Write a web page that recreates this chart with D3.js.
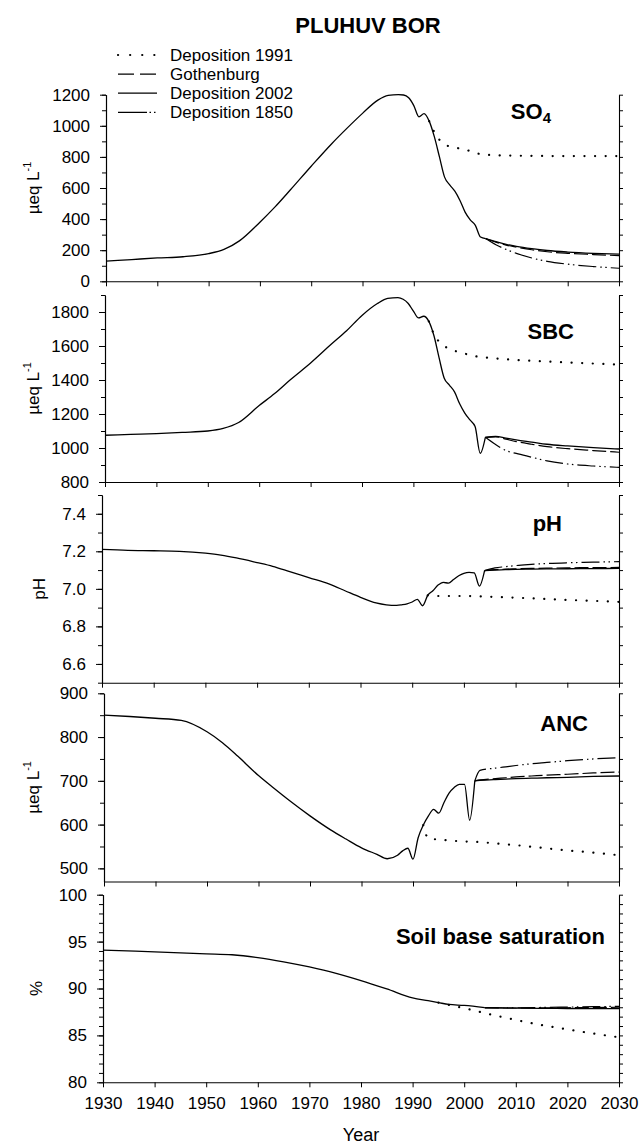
<!DOCTYPE html>
<html>
<head>
<meta charset="utf-8">
<script src="https://cdn.jsdelivr.net/npm/d3@7"></script>
<style>
body{margin:0;background:#fff;}
svg{font-family:Arial,"Liberation Sans",sans-serif;}
</style>
</head>
<body>
<svg id="chart" width="639" height="1144"></svg>
<script>
// --- data ---
var histYears = [1930,1935,1940,1945,1950,1953,1956,1960,1963,1966,1970,1974,1977,1980,1983,1985,1987,1988,1989,1990,1991,1992,1993,1994,1995,1996,1997,1998,1999,2000,2001,2002,2003,2004];
var futureYears = [2004,2006,2008,2010,2013,2016,2020,2025,2030];
var dep1991Years = [1993,1994,1995,1996,1998,2000,2002,2005,2010,2015,2020,2025,2030];

// SO4 (ueq/L)
var so4Hist = [130,140,150,158,178,205,260,380,480,590,740,885,985,1080,1165,1195,1200,1198,1180,1130,1058,1078,1030,930,800,670,620,580,520,445,395,360,285,275];
var so4Dep1991 = [1030,960,910,880,860,848,825,812,808,806,805,805,805];
var so4Gothenburg = [275,252,233,220,203,190,180,172,165];
var so4Dep2002 = [275,255,238,225,210,198,188,180,175];
var so4Dep1850 = [275,235,205,180,150,128,110,95,84];

// SBC (ueq/L)
var sbcHist = [1075,1080,1085,1092,1100,1115,1150,1250,1320,1400,1500,1610,1690,1780,1850,1880,1885,1875,1850,1805,1765,1775,1745,1660,1530,1410,1370,1330,1260,1205,1165,1126,969,1063];
var sbcDep1991 = [1745,1670,1625,1600,1572,1555,1540,1530,1518,1510,1503,1497,1490];
var sbcGothenburg = [1063,1066,1052,1038,1022,1008,996,985,975];
var sbcDep2002 = [1063,1068,1058,1048,1035,1022,1012,1002,994];
var sbcDep1850 = [1063,1020,985,968,946,924,906,894,886];

// pH
var phHist = [7.21,7.205,7.203,7.2,7.19,7.18,7.165,7.14,7.12,7.095,7.06,7.025,6.99,6.955,6.925,6.915,6.912,6.915,6.92,6.93,6.944,6.91,6.965,6.99,7.02,7.035,7.03,7.05,7.07,7.083,7.088,7.085,7.015,7.097];
var phDep1991 = [6.965,6.962,6.962,6.962,6.962,6.962,6.961,6.958,6.953,6.947,6.941,6.936,6.931];
var phGothenburg = [7.097,7.102,7.105,7.107,7.109,7.11,7.112,7.113,7.114];
var phDep2002 = [7.097,7.1,7.102,7.104,7.105,7.106,7.107,7.108,7.109];
var phDep1850 = [7.097,7.112,7.118,7.124,7.13,7.135,7.139,7.142,7.145];

// ANC (ueq/L) - branches a bit earlier, own years
var ancYears = [1930,1935,1940,1945,1950,1953,1956,1960,1963,1966,1970,1974,1977,1980,1983,1985,1987,1988,1989,1990,1991,1992,1993,1994,1995,1996,1997,1998,1999,2000,2001,2002];
var ancHist = [850,847,843,838,812,787,756,712,683,655,620,588,567,547,532,522,530,540,546,521,570,599,620,635,626,650,672,685,692,692,610,700];
var ancFutureYears = [2002,2003,2006,2008,2010,2013,2016,2020,2025,2030];
var ancDep1991Years = [1992,1993,1995,1999,2003,2006,2010,2015,2020,2025,2030];
var ancDep1991 = [599,568,566,562,560,557,553,547,541,536,530];
var ancGothenburg = [700,702,705,707,709,711,713,715,718,720];
var ancDep2002 = [700,701,703,704,705,706,707,708,710,711];
var ancDep1850 = [700,724,729,732,735,739,742,746,750,753];

// Soil base saturation (%)
var soilYears = [1930,1940,1950,1955,1960,1965,1970,1975,1980,1985,1990,1993,1995,1997,2000,2004];
var soilHist = [94.1,93.9,93.7,93.6,93.3,92.85,92.3,91.65,90.85,89.95,89.0,88.7,88.5,88.3,88.2,87.95];
var soilFutureYears = [2004,2010,2015,2020,2025,2030];
var soilDep1991Years = [1995,1997,2000,2005,2010,2015,2020,2025,2030];
var soilDep1991 = [88.5,88.25,87.9,87.25,86.65,86.1,85.65,85.2,84.8];
var soilGothenburg = [87.95,87.92,87.93,87.95,87.97,88.0];
var soilDep2002 = [87.95,87.9,87.88,87.87,87.86,87.85];
var soilDep1850 = [87.95,87.95,87.98,88.02,88.06,88.1];

var xTicks = [1930,1940,1950,1960,1970,1980,1990,2000,2010,2020,2030];
var legendNames = ['Deposition 1991','Gothenburg','Deposition 2002','Deposition 1850'];

// line styles for the four scenarios (same order as legendNames)
var styles = [
    {dash:'0.1,10.5', width:2.2, cap:'round'},
    {dash:'14,4', width:1.2, cap:'butt'},
    {dash:null, width:1.3, cap:'butt'},
    {dash:'18,4,1.5,3.5,1.5,4', width:1.2, cap:'butt'}
];
var legendDash = ['0.1,12', '16,6', null, '29,2.5,1.5,3,1.5,30'];

var panels = [
    {left:106, top:94.7, bottom:281.3, domain:[0,1200], major:d3.range(0,1201,200), minor:d3.range(0,1201,100), fmt:d3.format('d'),
     ylab:'ueq', ylabX:39, label:'SO', sub:'4', labX:551, labY:119,
     hx:histYears, hist:so4Hist, d91x:dep1991Years, d91:so4Dep1991, fx:futureYears, got:so4Gothenburg, d02:so4Dep2002, d50:so4Dep1850},
    {left:105, top:295, bottom:482, domain:[800,1900], major:d3.range(800,1801,200), minor:d3.range(800,1901,100), fmt:d3.format('d'),
     ylab:'ueq', ylabX:39, label:'SBC', labX:574, labY:339,
     hx:histYears, hist:sbcHist, d91x:dep1991Years, d91:sbcDep1991, fx:futureYears, got:sbcGothenburg, d02:sbcDep2002, d50:sbcDep1850},
    {left:102, top:495, bottom:682.7, domain:[6.5,7.5], major:[6.6,6.8,7.0,7.2,7.4], minor:d3.range(65,76,1).map(function(d){return d/10;}), fmt:d3.format('.1f'),
     ylab:'pH', ylabX:45, label:'pH', labX:562, labY:531,
     hx:histYears, hist:phHist, d91x:dep1991Years, d91:phDep1991, fx:futureYears, got:phGothenburg, d02:phDep2002, d50:phDep1850},
    {left:104, top:693.3, bottom:881.5, domain:[470,900], major:d3.range(500,901,100), minor:d3.range(500,901,50), fmt:d3.format('d'),
     ylab:'ueq', ylabX:39, label:'ANC', labX:588, labY:731,
     hx:ancYears, hist:ancHist, d91x:ancDep1991Years, d91:ancDep1991, fx:ancFutureYears, got:ancGothenburg, d02:ancDep2002, d50:ancDep1850},
    {left:103, top:894.7, bottom:1082.3, domain:[80,100], major:d3.range(80,101,5), minor:d3.range(80,101,1), fmt:d3.format('d'),
     ylab:'%', ylabX:42, label:'Soil base saturation', labX:605, labY:944,
     hx:soilYears, hist:soilHist, d91x:soilDep1991Years, d91:soilDep1991, fx:soilFutureYears, got:soilGothenburg, d02:soilDep2002, d50:soilDep1850}
];

var svg = d3.select('#chart');
var RIGHT = 619;

function drawLine(g, x, y, xs, ys, st) {
    var line = d3.line()
        .x(function(d){ return x(d[0]); })
        .y(function(d){ return y(d[1]); })
        .curve(d3.curveMonotoneX);
    var p = g.append('path')
        .datum(d3.zip(xs, ys))
        .attr('d', line)
        .attr('fill', 'none')
        .attr('stroke', '#000')
        .attr('stroke-width', st.width)
        .attr('stroke-linecap', st.cap)
        .attr('stroke-linejoin', 'round');
    if(st.dash) p.attr('stroke-dasharray', st.dash);
}

function styleAxis(a) {
    a.select('.domain').attr('stroke', '#000').attr('stroke-width', 1.1);
    a.selectAll('.tick line').attr('stroke', '#000').attr('stroke-width', 1);
    a.selectAll('text').attr('font-size', '17px').attr('fill', '#000').attr('font-family', 'Arial, "Liberation Sans", sans-serif');
}

function drawPanel(p, isLast) {
    // each sub-plot sits a pixel or two differently on the left, as in the original
    var x = d3.scaleLinear().domain([1930,2030]).range([p.left, RIGHT]);
    var y = d3.scaleLinear().domain(p.domain).range([p.bottom, p.top]);
    var g = svg.append('g');

    // left axis: minor then major with labels
    g.append('g').attr('transform', 'translate(' + p.left + ',0)')
        .call(d3.axisLeft(y).tickValues(p.minor).tickSize(4).tickSizeOuter(0).tickFormat(''))
        .call(styleAxis);
    g.append('g').attr('transform', 'translate(' + p.left + ',0)')
        .call(d3.axisLeft(y).tickValues(p.major).tickSize(6).tickSizeOuter(0).tickPadding(10).tickFormat(p.fmt))
        .call(styleAxis);
    // right axis, ticks inward
    g.append('g').attr('transform', 'translate(' + RIGHT + ',0)')
        .call(d3.axisLeft(y).tickValues(p.minor).tickSize(-4).tickSizeOuter(0).tickFormat(''))
        .call(styleAxis);
    // bottom axis
    g.append('g').attr('transform', 'translate(0,' + p.bottom + ')')
        .call(d3.axisBottom(x).tickValues(xTicks).tickSize(5).tickSizeOuter(0).tickPadding(10).tickFormat(isLast ? d3.format('d') : ''))
        .call(styleAxis);

    // series
    drawLine(g, x, y, p.d91x, p.d91, styles[0]);
    drawLine(g, x, y, p.fx, p.got, styles[1]);
    drawLine(g, x, y, p.fx, p.d02, styles[2]);
    drawLine(g, x, y, p.fx, p.d50, styles[3]);
    drawLine(g, x, y, p.hx, p.hist, styles[2]);

    // panel label
    var t = g.append('text').attr('x', p.labX).attr('y', p.labY).attr('text-anchor', 'end')
        .attr('font-size', '22px').attr('font-weight', 'bold').text(p.label);
    if(p.sub) t.append('tspan').attr('font-size', '15px').attr('dy', 4).text(p.sub);

    // y title
    var cy = (p.top + p.bottom) / 2;
    var yt = g.append('text').attr('transform', 'translate(' + p.ylabX + ',' + cy + ') rotate(-90)')
        .attr('text-anchor', 'middle').attr('font-size', '17px');
    if(p.ylab == 'ueq') {
        yt.append('tspan').text('\u00b5eq L');
        yt.append('tspan').attr('font-size', '11px').attr('dy', -8).text('-1');
    } else {
        yt.text(p.ylab);
    }
}

for(var i=0;i<panels.length;i++)
    drawPanel(panels[i], i == panels.length-1);

// title
svg.append('text').attr('x', 368).attr('y', 33).attr('text-anchor', 'middle')
    .attr('font-size', '22px').attr('font-weight', 'bold').text('PLUHUV BOR');

// x title
svg.append('text').attr('x', 361).attr('y', 1141).attr('text-anchor', 'middle')
    .attr('font-size', '18px').text('Year');

// legend
var leg = svg.append('g');
legendNames.forEach(function(name, i) {
    var ly = 55 + i * 19.1;
    var l = leg.append('line').attr('x1', 118).attr('x2', 157).attr('y1', ly).attr('y2', ly)
        .attr('stroke', '#000').attr('stroke-width', styles[i].width).attr('stroke-linecap', styles[i].cap);
    if(legendDash[i]) l.attr('stroke-dasharray', legendDash[i]);
    leg.append('text').attr('x', 170).attr('y', ly + 6).attr('font-size', '17px').text(name);
});
</script>
</body>
</html>
